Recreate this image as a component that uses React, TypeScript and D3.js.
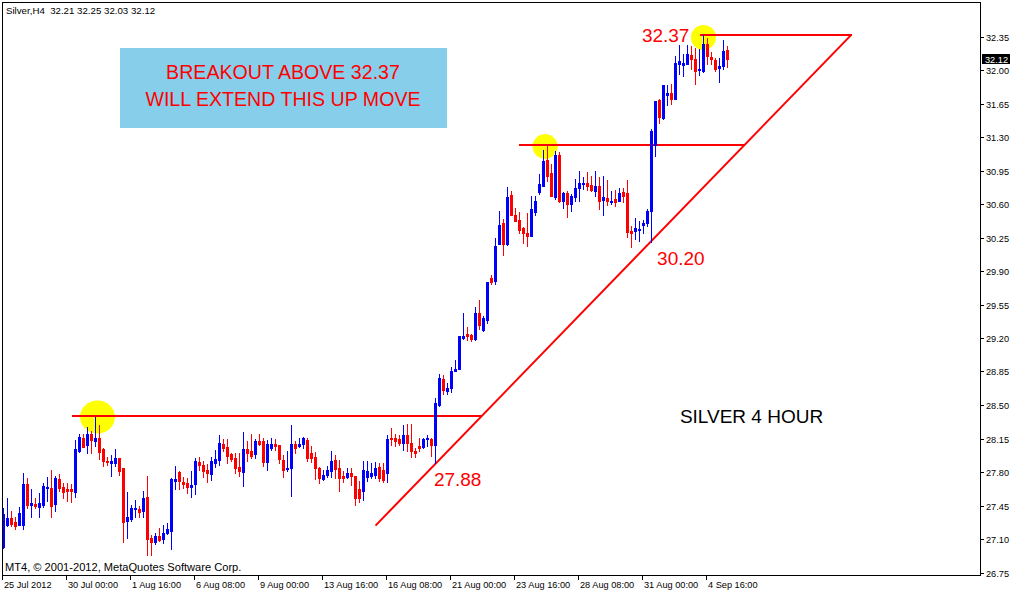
import React from "react";
import * as d3 from "d3";

const chartTitle = "Silver,H4  32.21 32.25 32.03 32.12";
const copyrightText = "MT4, \u00A9 2001-2012, MetaQuotes Software Corp.";

const opens = [
  27.02, 27.25, 27.32, 27.28, 27.25, 27.25, 27.67, 27.46, 27.47, 27.43,
  27.46, 27.63, 27.63, 27.47, 27.73, 27.64, 27.62, 27.62, 27.59, 28.02,
  28.16, 28.08, 28.20, 28.12, 28.16, 28.04, 27.92, 27.89, 27.89, 27.95,
  27.84, 27.29, 27.31, 27.41, 27.41, 27.39, 27.54, 27.11, 27.07, 27.13,
  27.10, 27.16, 27.18, 27.71, 27.80, 27.70, 27.69, 27.64, 27.67, 27.90,
  27.87, 27.82, 27.78, 27.89, 27.93, 28.09, 28.06, 27.99, 27.95, 27.85,
  27.80, 28.04, 28.02, 27.99, 28.12, 28.12, 27.90, 28.05, 28.09, 28.08,
  27.93, 27.83, 27.84, 28.09, 28.07, 28.09, 28.13, 28.00, 27.96, 27.84,
  27.73, 27.77, 27.81, 27.93, 27.84, 27.76, 27.75, 27.79, 27.76, 27.62,
  27.60, 27.75, 27.76, 27.77, 27.85, 27.82, 27.79, 28.16, 28.16, 28.15,
  28.10, 28.19, 28.10, 28.02, 28.07, 28.06, 28.14, 28.15, 28.08, 28.50,
  28.77, 28.65, 28.68, 28.85, 28.88, 29.20, 29.24, 29.23, 29.19, 29.46,
  29.28, 29.39, 29.83, 29.80, 30.18, 30.40, 30.18, 30.69, 30.49, 30.43,
  30.35, 30.30, 30.27, 30.52, 30.73, 30.79, 31.06, 30.92, 30.67, 31.11,
  30.63, 30.72, 30.60, 30.67, 30.77, 30.81, 30.82, 30.80, 30.74, 30.79,
  30.64, 30.66, 30.62, 30.65, 30.63, 30.73, 30.71, 30.32, 30.32, 30.33,
  30.38, 30.40, 30.53, 31.22, 31.69, 31.50, 31.74, 31.76, 31.70, 32.06,
  32.05, 32.06, 32.16, 32.11, 32.00, 31.99, 32.27, 32.14, 32.10, 32.02,
  32.04, 32.21,
];
const highs = [
  27.42, 27.53, 27.39, 27.33, 27.43, 27.79, 27.74, 27.62, 27.53, 27.58,
  27.68, 27.75, 27.82, 27.76, 27.78, 27.68, 27.68, 27.67, 28.13, 28.20,
  28.20, 28.27, 28.23, 28.37, 28.29, 28.05, 27.96, 27.98, 28.04, 27.95,
  27.84, 27.59, 27.46, 27.51, 27.44, 27.60, 27.76, 27.14, 27.16, 27.21,
  27.25, 27.27, 27.74, 27.86, 27.81, 27.75, 27.74, 27.81, 27.95, 27.96,
  27.91, 27.88, 27.96, 28.03, 28.19, 28.14, 28.15, 28.00, 28.00, 28.00,
  28.22, 28.12, 28.20, 28.15, 28.20, 28.16, 28.13, 28.16, 28.14, 28.08,
  27.98, 28.02, 28.29, 28.12, 28.16, 28.17, 28.16, 28.07, 28.01, 27.85,
  27.82, 27.86, 28.02, 27.98, 27.93, 27.81, 27.84, 27.84, 27.76, 27.71,
  27.92, 27.91, 27.89, 27.90, 27.89, 27.89, 28.19, 28.26, 28.20, 28.19,
  28.29, 28.30, 28.30, 28.05, 28.16, 28.16, 28.19, 28.16, 28.57, 28.82,
  28.81, 28.73, 28.90, 28.97, 29.22, 29.46, 29.32, 29.24, 29.52, 29.60,
  29.43, 29.79, 29.86, 30.25, 30.53, 30.44, 30.78, 30.74, 30.56, 30.52,
  30.36, 30.51, 30.68, 30.68, 30.91, 31.16, 31.23, 31.02, 31.15, 31.14,
  30.73, 30.74, 30.70, 30.86, 30.95, 30.88, 30.93, 30.89, 30.94, 30.88,
  30.89, 30.85, 30.74, 30.75, 30.77, 30.77, 30.85, 30.37, 30.45, 30.42,
  30.43, 30.55, 31.38, 31.68, 31.70, 31.84, 31.84, 31.85, 32.15, 32.26,
  32.17, 32.26, 32.25, 32.23, 32.22, 32.37, 32.33, 32.19, 32.13, 32.13,
  32.31, 32.25,
];
const lows = [
  27.01, 27.24, 27.24, 27.20, 27.25, 27.20, 27.42, 27.33, 27.42, 27.33,
  27.43, 27.50, 27.33, 27.39, 27.60, 27.53, 27.50, 27.49, 27.54, 28.01,
  28.06, 28.00, 28.00, 28.07, 27.94, 27.86, 27.87, 27.76, 27.86, 27.77,
  27.07, 27.11, 27.29, 27.33, 27.33, 27.33, 26.93, 26.93, 27.05, 27.08,
  27.06, 27.15, 27.00, 27.62, 27.62, 27.63, 27.58, 27.54, 27.57, 27.82,
  27.75, 27.70, 27.72, 27.85, 27.87, 28.02, 27.89, 27.92, 27.79, 27.76,
  27.65, 27.91, 27.95, 27.95, 28.08, 27.86, 27.82, 28.03, 28.03, 27.89,
  27.75, 27.81, 27.55, 28.00, 28.06, 28.05, 27.92, 27.90, 27.73, 27.69,
  27.72, 27.75, 27.75, 27.74, 27.60, 27.70, 27.74, 27.66, 27.46, 27.49,
  27.51, 27.71, 27.74, 27.74, 27.71, 27.70, 27.70, 28.08, 28.07, 28.08,
  28.03, 28.02, 27.96, 27.96, 28.02, 28.05, 28.07, 27.97, 27.89, 28.49,
  28.61, 28.61, 28.64, 28.85, 28.88, 29.19, 29.18, 29.17, 29.18, 29.29,
  29.27, 29.36, 29.76, 29.76, 30.18, 30.07, 30.17, 30.49, 30.42, 30.30,
  30.19, 30.16, 30.27, 30.49, 30.70, 30.79, 30.84, 30.68, 30.65, 30.62,
  30.56, 30.46, 30.53, 30.63, 30.63, 30.76, 30.75, 30.74, 30.68, 30.55,
  30.48, 30.59, 30.60, 30.58, 30.63, 30.62, 30.26, 30.15, 30.23, 30.21,
  30.30, 30.37, 30.20, 31.10, 31.45, 31.49, 31.63, 31.64, 31.70, 31.96,
  31.94, 32.06, 32.01, 31.85, 31.95, 31.98, 32.06, 32.06, 31.99, 31.87,
  32.01, 32.03,
];
const closes = [
  27.36, 27.32, 27.26, 27.24, 27.37, 27.67, 27.46, 27.48, 27.44, 27.48,
  27.65, 27.64, 27.45, 27.74, 27.63, 27.59, 27.60, 27.60, 28.04, 28.17,
  28.06, 28.20, 28.13, 28.16, 28.01, 27.91, 27.90, 27.91, 27.95, 27.81,
  27.28, 27.33, 27.42, 27.42, 27.38, 27.53, 27.10, 27.07, 27.13, 27.09,
  27.16, 27.20, 27.73, 27.73, 27.71, 27.67, 27.64, 27.66, 27.91, 27.87,
  27.81, 27.79, 27.91, 27.94, 28.10, 28.05, 27.97, 27.94, 27.84, 27.81,
  28.04, 28.00, 27.97, 28.12, 28.09, 27.90, 28.09, 28.09, 28.07, 27.94,
  27.82, 27.84, 28.09, 28.05, 28.09, 28.16, 27.95, 27.95, 27.84, 27.74,
  27.77, 27.82, 27.92, 27.83, 27.74, 27.74, 27.79, 27.76, 27.53, 27.53,
  27.82, 27.81, 27.79, 27.84, 27.74, 27.72, 28.15, 28.14, 28.12, 28.10,
  28.19, 28.10, 28.02, 28.00, 28.05, 28.14, 28.16, 28.08, 28.52, 28.78,
  28.66, 28.68, 28.85, 28.88, 29.22, 29.22, 29.22, 29.19, 29.46, 29.34,
  29.41, 29.79, 29.79, 30.16, 30.38, 30.18, 30.67, 30.49, 30.42, 30.33,
  30.30, 30.27, 30.55, 30.63, 30.81, 31.05, 30.89, 30.68, 31.11, 30.63,
  30.72, 30.60, 30.68, 30.77, 30.82, 30.82, 30.79, 30.75, 30.79, 30.63,
  30.67, 30.63, 30.63, 30.62, 30.72, 30.68, 30.31, 30.30, 30.35, 30.34,
  30.40, 30.53, 31.36, 31.68, 31.51, 31.84, 31.76, 31.70, 32.07, 32.09,
  32.07, 32.17, 32.12, 31.99, 32.01, 32.27, 32.15, 32.11, 32.01, 32.04,
  32.20, 32.12,
];

const priceTicks = [
  32.35, 32.0, 31.65, 31.3, 30.95, 30.6, 30.25, 29.9, 29.55, 29.2, 28.85,
  28.5, 28.15, 27.8, 27.45, 27.1, 26.75,
];
const timeLabels = [
  "25 Jul 2012", "30 Jul 00:00", "1 Aug 16:00", "6 Aug 08:00", "9 Aug 00:00",
  "13 Aug 16:00", "16 Aug 08:00", "21 Aug 00:00", "23 Aug 16:00",
  "28 Aug 08:00", "31 Aug 00:00", "4 Sep 16:00",
];
const timeLabelBars = [0, 16, 32, 48, 64, 80, 96, 112, 128, 144, 160, 176];
const lastPrice = 32.12;

// annotation objects (anchored in bar index / price)
const levelPrices = [28.38, 31.22, 32.37];
const levelStartBars = [17.1, 128.9, 174.1];
const trendBars = [93, 212];
const trendPrices = [27.24, 32.37];
const highlightBars = [23.5, 135.4, 175];
const highlightPrices = [28.374, 31.201, 32.34];
const noteTexts = ["32.37", "30.20", "27.88", "SILVER 4 HOUR"];
const noteBars = [159.6, 163.4, 107.6, 169.1];
const notePrices = [32.366, 30.036, 27.727, 28.385];
const boxBars = [29, 110.75];
const boxPrices = [32.235, 31.397];
const boxLines = ["BREAKOUT ABOVE 32.37", "WILL EXTEND THIS UP MOVE"];
const boxLinePrices = [31.979, 31.697];

const SMALL_FONT = "'Liberation Sans', Arial, sans-serif";
const BIG_FONT = "'Liberation Sans', Arial, sans-serif";
const RED = "#ff0000";
const BLUE = "#0000ff";

export default function App() {
  const x = d3.scaleLinear().domain([0, 1]).range([3.5, 7.5]);
  const y = d3.scaleLinear().domain([26.75, 32.35]).range([572.5, 36.5]);

  const left = 2;
  const right = 980;
  const top = 2;
  const bottom = 575;

  const trendAt = (price: number) =>
    trendBars[0] +
    ((price - trendPrices[0]) * (trendBars[1] - trendBars[0])) /
      (trendPrices[1] - trendPrices[0]);

  const trendLine = d3
    .line<[number, number]>()
    .x((d) => x(d[0]))
    .y((d) => y(d[1]));
  const trendPts: [number, number][] = trendBars.map((b, i) => [b, trendPrices[i]]);

  const candles = opens.map((o, i) => {
    const h = highs[i];
    const l = lows[i];
    const c = closes[i];
    const px = Math.round(x(i) - 0.5);
    const wt = Math.round(y(h));
    const wb = Math.round(y(l));
    const bt = Math.round(y(Math.max(o, c)));
    const bb = Math.round(y(Math.min(o, c)));
    const col = c >= o ? BLUE : RED;
    return (
      <g key={i} fill={col}>
        <rect x={px} y={wt} width={1} height={Math.max(1, wb - wt + 1)} />
        <rect x={px - 1} y={bt} width={3} height={Math.max(1, bb - bt + 1)} />
      </g>
    );
  });

  const bigBaseline = (p: number) => y(p) + 6.8;

  return (
    <svg
      width={1018}
      height={592}
      style={{ position: "fixed", left: 0, top: 0, background: "#fff" }}
      shapeRendering="crispEdges"
    >
      <defs>
        <clipPath id="plotClip">
          <rect x={left + 1} y={top + 1} width={right - left - 1} height={bottom - top - 1} />
        </clipPath>
      </defs>
      <rect x={0} y={0} width={1018} height={592} fill="#fff" />

      <g clipPath="url(#plotClip)">
        <rect
          x={Math.round(x(boxBars[0]))}
          y={Math.round(y(boxPrices[0]))}
          width={Math.round(x(boxBars[1]) - x(boxBars[0]))}
          height={Math.round(y(boxPrices[1]) - y(boxPrices[0]))}
          fill="#87ceeb"
        />
        {highlightBars.map((b, i) => (
          <ellipse
            key={i}
            cx={x(b)}
            cy={y(highlightPrices[i])}
            rx={i === 0 ? 17.5 : 12.5}
            ry={i === 0 ? 16.5 : 12.5}
            fill="#ffff00"
            shapeRendering="auto"
          />
        ))}
        {levelPrices.map((p, i) => {
          const yy = Math.round(y(p));
          return (
            <line
              key={i}
              x1={Math.round(x(levelStartBars[i]))}
              x2={Math.round(x(trendAt(p)))}
              y1={yy}
              y2={yy}
              stroke={RED}
              strokeWidth={2}
            />
          );
        })}
        <path
          d={trendLine(trendPts) || ""}
          stroke={RED}
          strokeWidth={2}
          fill="none"
          shapeRendering="auto"
        />
        {candles}
      </g>

      <g fontFamily={BIG_FONT} shapeRendering="auto">
        {boxLines.map((t, i) => (
          <text
            key={i}
            x={(x(boxBars[0]) + x(boxBars[1])) / 2}
            y={bigBaseline(boxLinePrices[i])}
            textAnchor="middle"
            fontSize={19.6}
            fill={RED}
          >
            {t}
          </text>
        ))}
        {noteTexts.map((t, i) => (
          <text
            key={i}
            x={x(noteBars[i])}
            y={bigBaseline(notePrices[i])}
            fontSize={19}
            fill={i === 3 ? "#000" : RED}
          >
            {t}
          </text>
        ))}
      </g>

      <path
        d={`M${left + 0.5},${top + 0.5}H${right + 0.5}V${bottom + 0.5}H${left + 0.5}Z`}
        fill="none"
        stroke="#000"
        strokeWidth={1}
      />

      <text
        x={6}
        y={14}
        fontFamily={SMALL_FONT}
        fontSize={9.7}
        fill="#000"
        style={{ whiteSpace: "pre" }}
        xmlSpace="preserve"
      >
        {chartTitle}
      </text>
      <text x={5} y={571} fontFamily={SMALL_FONT} fontSize={11.1} fill="#000">
        {copyrightText}
      </text>

      <g fontFamily={SMALL_FONT} fontSize={9.2} fill="#000">
        {priceTicks.map((p, i) => {
          const yy = Math.round(y(p));
          return (
            <g key={i}>
              <line x1={right + 1} x2={right + 4} y1={yy + 0.5} y2={yy + 0.5} stroke="#000" />
              <text x={right + 6} y={yy + 3.5}>
                {p.toFixed(2)}
              </text>
            </g>
          );
        })}
        <rect
          x={right + 2}
          y={Math.round(y(lastPrice)) - 5}
          width={28}
          height={10}
          fill="#000"
        />
        <text x={right + 5} y={Math.round(y(lastPrice)) + 3.5} fill="#fff">
          {lastPrice.toFixed(2)}
        </text>
      </g>

      <g fontFamily={SMALL_FONT} fontSize={9.2} fill="#000">
        {timeLabels.map((t, i) => {
          const tx = Math.round(x(timeLabelBars[i]) - 0.5) - 1;
          return (
            <g key={i}>
              <line x1={tx + 0.5} x2={tx + 0.5} y1={bottom + 1} y2={bottom + 5} stroke="#000" />
              <text x={tx + 2} y={588}>
                {t}
              </text>
            </g>
          );
        })}
      </g>
    </svg>
  );
}
